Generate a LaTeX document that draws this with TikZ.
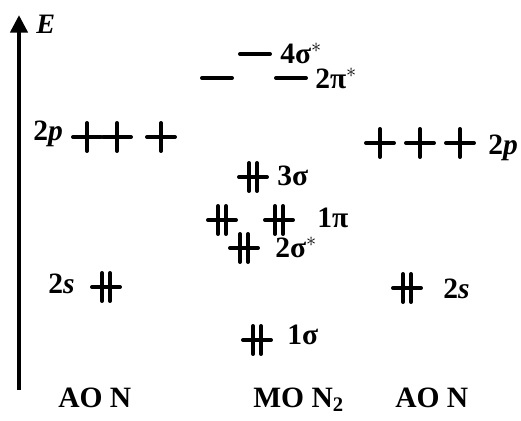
\documentclass[tikz,border=0pt]{standalone}
\usepackage{fontspec}
\setmainfont{Liberation Serif}
\usetikzlibrary{arrows.meta, positioning}
\tikzset{
  lvl/.style={line width=2.8pt, line cap=round},
  axisline/.style={line width=3.4pt, -{Triangle[length=12.5pt, width=12pt]}},
  lbl/.style={font=\bfseries\fontsize{21}{24}\selectfont, inner sep=0pt, anchor=base west},
  pics/emptylvl/.style={code={\draw[lvl] (-15,0) -- (15,0);}},
  pics/single/.style={code={
      \draw[lvl] (-14,0) -- (14,0);
      \draw[lvl] (0,-14) -- (0,14);}},
  pics/paired/.style={code={
      \draw[lvl] (-14,0) -- (14,0);
      \draw[lvl] (-4,-14) -- (-4,14);
      \draw[lvl] (4,-14) -- (4,14);}},
}
\begin{document}
\begin{tikzpicture}[x=0.025cm, y=-0.025cm]
  \useasboundingbox (0,0) rectangle (521,421);
  % energy axis
  \coordinate (axbot) at (19,390);
  \coordinate (axtop) at (19,15);
  \draw[axisline] (axbot) -- (axtop);
  \node[lbl, font=\bfseries\itshape\fontsize{20}{24}\selectfont] (elbl) at (36,33) {E};

  % left atom N
  \node[lbl] (p2left) at (33,140) {2\textit{p}};
  \pic (pl1) at (87,137) {single};
  \pic (pl2) at (117,137) {single};
  \pic (pl3) at (161,137) {single};
  \node[lbl] (s2left) at (48,293) {2\textit{s}};
  \pic (sl) at (106,287) {paired};

  % right atom N
  \pic (pr1) at (380,143) {single};
  \pic (pr2) at (420,143) {single};
  \pic (pr3) at (460,143) {single};
  \node[lbl] (p2right) at (488,154) {2\textit{p}};
  \pic (sr) at (407,288) {paired};
  \node[lbl] (s2right) at (443,298) {2\textit{s}};

  % molecule N2
  \pic (s4) at (255,54) {emptylvl};
  \node[lbl] (s4lbl) at (280,63) {4σ$^{*}$};
  \pic (pi2a) at (217,78) {emptylvl};
  \pic (pi2b) at (291,78) {emptylvl};
  \node[lbl] (pi2lbl) at (315,88) {2π$^{*}$};
  \pic (s3) at (253,177) {paired};
  \node[lbl] (s3lbl) at (277,185) {3σ};
  \pic (pi1a) at (222,220) {paired};
  \pic (pi1b) at (279,220) {paired};
  \node[lbl] (pi1lbl) at (317,227) {1π};
  \pic (s2) at (244,248) {paired};
  \node[lbl] (s2lbl) at (275,257) {2σ$^{*}$};
  \pic (s1) at (257,340) {paired};
  \node[lbl] (s1lbl) at (287,344) {1σ};

  % captions
  \node[lbl] (aoleft) at (58,407) {AO N};
  \node[lbl] (mo) at (253,407) {MO N$_{\mathbf{2}}$};
  \node[lbl] (aoright) at (395,407) {AO N};
\end{tikzpicture}
\end{document}
